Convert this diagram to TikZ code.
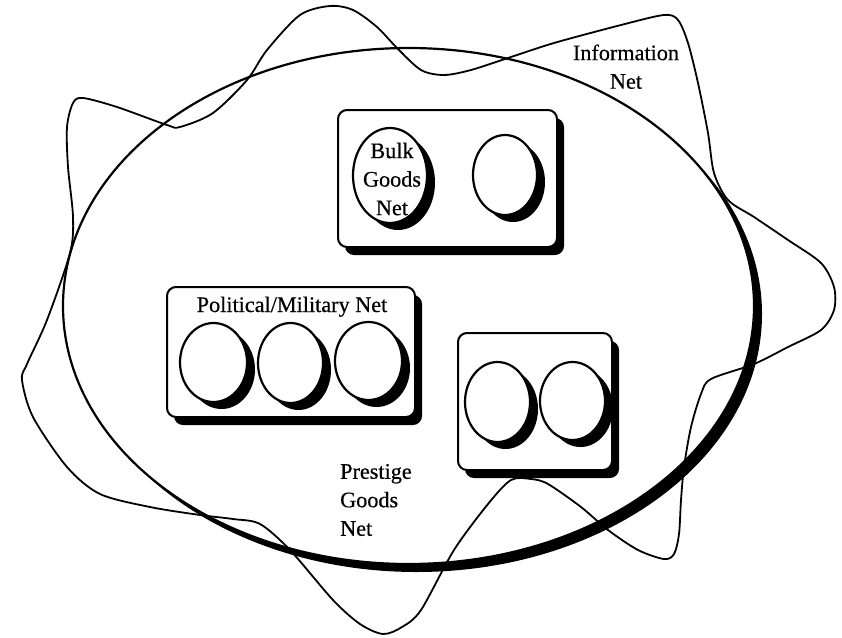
\documentclass[tikz,border=0pt]{standalone}
\usepackage{fontspec}
\setmainfont{Liberation Serif}
\newfontfamily\garfont{Liberation Serif}[FakeBold=0.5]
\usetikzlibrary{shapes.geometric,shadows}
\tikzset{
  world/.style={ellipse, draw, line width=2.2pt, fill=white, inner sep=0pt,
    drop shadow={shadow xshift=8pt,shadow yshift=-8pt,fill=black,opacity=1}},
  netbox/.style={rectangle, rounded corners=9pt, draw, line width=2pt, fill=white, inner sep=0pt,
    drop shadow={shadow xshift=7pt,shadow yshift=-8pt,fill=black,opacity=1}},
  blob/.style={ellipse, draw, line width=2.2pt, fill=white, inner sep=0pt,
    drop shadow={shadow xshift=8pt,shadow yshift=-7pt,fill=black,opacity=1}},
  infonet/.style={line width=1.8pt, line join=round},
  lbl/.style={font=\garfont\fontsize{22.2}{28.5}\selectfont\addfontfeature{FakeBold=0.5}, inner sep=0pt, text=black}
}
\begin{document}
\begin{tikzpicture}[x=1pt,y=-1pt]
\useasboundingbox (0,0) rectangle (842,637);
\fill[white] (0,0) rectangle (842,637);
% big ellipse
\node[world, minimum width=691pt, minimum height=516pt] (world) at (408.5,306) {};
% information net
\draw[infonet] plot[smooth cycle, tension=0.5] coordinates {
(330,6) (353,10) (377,27) (397,48) (421,70) (444,75) (471,70) (508,58) (554,43) (621,25) (664,15) (678,20)
(688,43) (698,83) (708,133) (714,173) (728,200) (754,217) (788,240) (821,263) (834,287) (834,310)
(821,330) (788,347) (754,364) (711,379) (701,394) (691,427) (684,467) (681,500) (679,534) (674,554)
(664,559) (638,550) (608,530) (581,507) (548,484) (531,479) (511,480) (488,504) (454,550) (421,610)
(402,627) (383,634) (360,624) (333,600) (290,550) (260,524) (233,519) (200,515) (150,507) (100,494)
(67,467) (33,417) (22,380) (27,364) (47,320) (70,253) (73,217) (68,167) (67,127) (73,103) (83,98)
(117,107) (167,125) (180,127) (213,113) (247,80) (267,50) (300,15)};
% bulk goods box
\node[netbox, minimum width=219pt, minimum height=137pt] (bulkbox) at (447.5,178.5) {};
\node[blob, minimum width=74pt, minimum height=95pt] (bulk) at (390,175.5) {};
\node[blob, minimum width=64pt, minimum height=80pt] (bulk2) at (505,175) {};
% political/military box
\node[netbox, minimum width=248pt, minimum height=130pt] (polbox) at (291,352) {};
\node[blob, minimum width=67pt, minimum height=79pt] (pol1) at (213.5,362.5) {};
\node[blob, minimum width=65pt, minimum height=80pt] (pol2) at (290.5,363) {};
\node[blob, minimum width=67pt, minimum height=78pt] (pol3) at (368.5,361) {};
% prestige box
\node[netbox, minimum width=154pt, minimum height=137pt] (presbox) at (535,401.5) {};
\node[blob, minimum width=65pt, minimum height=80pt] (pres1) at (497.5,402) {};
\node[blob, minimum width=65pt, minimum height=78pt] (pres2) at (572.5,401) {};
% labels
\node[lbl, align=center] (infolbl) at (626,66.7) {Information\\Net};
\node[lbl, align=center] (bulklbl) at (392,179) {Bulk\\Goods\\Net};
\node[lbl, anchor=base] (pollbl) at (292,312) {Political/Military Net};
\node[lbl, align=left, anchor=west] (preslbl) at (340,500) {Prestige\\Goods\\Net};
\end{tikzpicture}
\end{document}
